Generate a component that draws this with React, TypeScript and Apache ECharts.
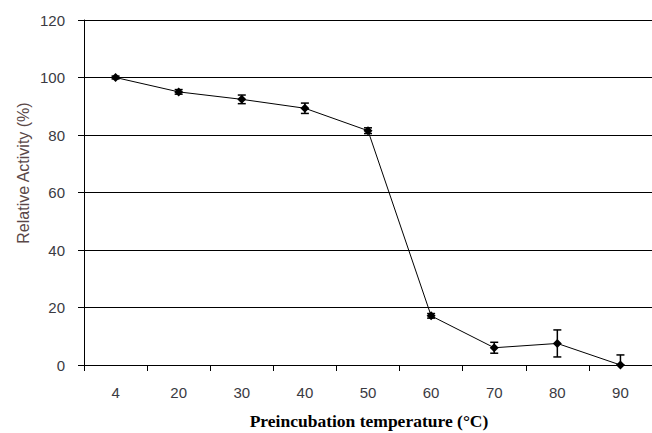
import React, { useEffect, useRef } from "react";
import * as echarts from "echarts";

const categories = ["4", "20", "30", "40", "50", "60", "70", "80", "90"];
const activity = [100, 95, 92.4, 89.3, 81.5, 17.1, 6.0, 7.5, 0];
const errors = [0.5, 0.8, 1.5, 1.8, 1.0, 0.8, 1.9, 4.7, 3.5];

export default function App() {
  const ref = useRef<HTMLDivElement>(null);
  useEffect(() => {
    if (!ref.current) return;
    const chart = echarts.init(ref.current, null, { renderer: "svg" });
    const errData = activity.map((v, i) => [i, Math.max(0, v - errors[i]), v + errors[i]]);
    chart.setOption({
      animation: false,
      backgroundColor: "#ffffff",
      grid: { left: 84, right: -9, top: 20, bottom: 68, containLabel: false },
      xAxis: {
        type: "category",
        data: categories,
        boundaryGap: true,
        axisLine: { lineStyle: { color: "#000", width: 1 } },
        axisTick: { show: true, length: 6, inside: false, alignWithLabel: false, lineStyle: { color: "#000" } },
        axisLabel: { color: "#3a3a42", fontSize: 15, fontFamily: "Liberation Sans", margin: 20 },
        splitLine: { show: false },
      },
      yAxis: {
        type: "value",
        min: 0,
        max: 120,
        interval: 20,
        axisLine: { show: true, lineStyle: { color: "#000", width: 1 } },
        axisTick: { show: true, length: 6, lineStyle: { color: "#000" } },
        axisLabel: { color: "#3a3a42", fontSize: 15, fontFamily: "Liberation Sans", margin: 19 },
        splitLine: { show: true, lineStyle: { color: "#000", width: 1 } },
      },
      graphic: [
        {
          type: "text",
          x: 369,
          y: 421,
          style: {
            text: "Preincubation temperature (°C)",
            font: "bold 17.5px 'Liberation Serif'",
            fill: "#000",
            align: "center",
            verticalAlign: "middle",
          },
        },
        {
          type: "text",
          x: 23,
          y: 173,
          rotation: Math.PI / 2,
          style: {
            text: "Relative Activity (%)",
            font: "16px 'Liberation Sans'",
            fill: "#5a4848",
            align: "center",
            verticalAlign: "middle",
          },
        },
      ],
      series: [
        {
          type: "line",
          data: activity,
          symbol: "diamond",
          symbolSize: 9,
          itemStyle: { color: "#000" },
          lineStyle: { color: "#000", width: 1 },
          z: 3,
        },
        {
          type: "custom",
          data: errData,
          z: 4,
          renderItem: (params: any, api: any) => {
            const i = api.value(0);
            const lo = api.coord([i, api.value(1)]);
            const hi = api.coord([i, api.value(2)]);
            const w = 4;
            const style = { stroke: "#000", lineWidth: 1.5 };
            return {
              type: "group",
              children: [
                { type: "line", shape: { x1: hi[0], y1: hi[1], x2: lo[0], y2: lo[1] }, style },
                { type: "line", shape: { x1: hi[0] - w, y1: hi[1], x2: hi[0] + w, y2: hi[1] }, style },
                { type: "line", shape: { x1: lo[0] - w, y1: lo[1], x2: lo[0] + w, y2: lo[1] }, style },
              ],
            };
          },
        },
      ],
    });
    return () => chart.dispose();
  }, []);
  return (
    <div
      ref={ref}
      style={{ position: "fixed", left: 0, top: 0, width: 652, height: 433, background: "#fff" }}
    />
  );
}
